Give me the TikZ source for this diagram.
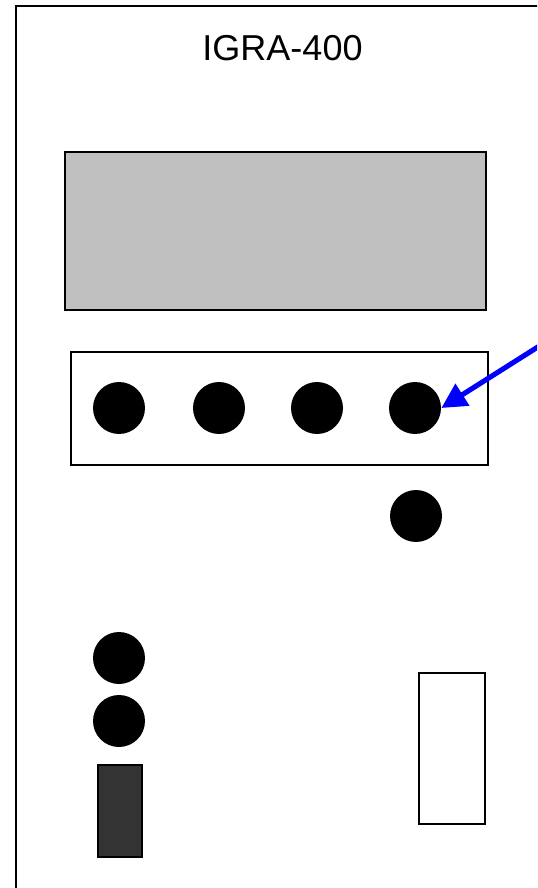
\documentclass[tikz,border=0pt]{standalone}
\usepackage{fontspec}
\setmainfont{Liberation Sans}
\usepackage{xcolor}
\usepackage{tikz}
\usetikzlibrary{arrows.meta}
\definecolor{panelGray}{HTML}{C0C0C0}
\definecolor{slotDark}{HTML}{333333}
\definecolor{pointerBlue}{HTML}{0000FF}

\tikzset{
    knob/.style={circle, fill=black, inner sep=0pt, minimum size=1.04cm},
    part/.style={draw=black, line width=0.85pt},
}

\begin{document}
\begin{tikzpicture}[x=0.02cm, y=-0.02cm]
    \useasboundingbox (0,0) rectangle (537,888);
    \clip (0,0) rectangle (537,888);
    % front plate
    \draw[line width=0.85pt] (16,900) -- (16,6) -- (560,6);
    \node[anchor=base, font=\fontsize{20.5}{24}\selectfont] (title) at (282.5,61) {IGRA-400};
    % display and key strip
    \draw[part, fill=panelGray] (65,152) rectangle (486,310);
    \draw[part] (71,352) rectangle (488,465);
    \node[knob] (key1) at (119,408) {};
    \node[knob] (key2) at (219,408) {};
    \node[knob] (key3) at (317,408) {};
    \node[knob] (key4) at (415,408) {};
    \node[knob] (knob5) at (416,516) {};
    % lower controls
    \node[knob] (led1) at (119,658) {};
    \node[knob] (led2) at (119,721) {};
    \draw[part, fill=slotDark] (98,765) rectangle (142,857);
    \draw[part] (419,673) rectangle (485,824);
    % pointer
    \coordinate (tail) at (552,338);
    \draw[pointerBlue, line width=2.9pt, -{Triangle[length=0.5cm, width=0.5cm]}]
        (tail) -- (key4.east);
\end{tikzpicture}
\end{document}
